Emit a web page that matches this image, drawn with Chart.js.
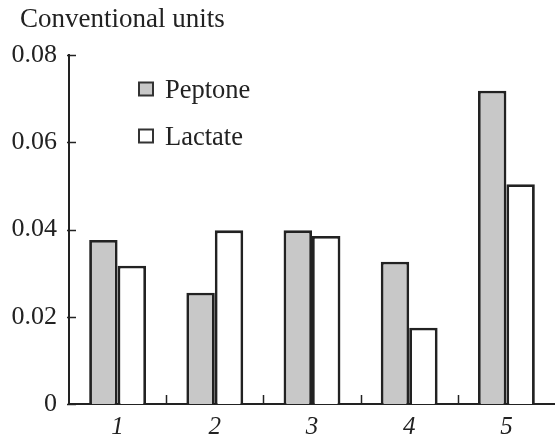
<!DOCTYPE html>
<html><head><meta charset="utf-8">
<script src="https://cdn.jsdelivr.net/npm/chart.js@4"></script>
<style>html,body{margin:0;padding:0;background:#fff}#wrap{width:555px;height:440px}</style>
</head><body><div id="wrap"><canvas id="c"></canvas></div>
<script>
const categories = ['1', '2', '3', '4', '5'];
const peptone = [0.0376, 0.0255, 0.0398, 0.0326, 0.0718];
const lactate = [0.0317, 0.0398, 0.0385, 0.0175, 0.0504];
const yTickLabels = ['0', '0.02', '0.04', '0.06', '0.08'];
const yTitle = 'Conventional units';
const seriesNames = ['Peptone', 'Lactate'];

const ink = '#222';
const overlay = {
  id: 'overlay',
  afterDraw(chart) {
    const ctx = chart.ctx, x = chart.scales.x, y = chart.scales.y, a = chart.chartArea;
    ctx.save();
    ctx.strokeStyle = ink; ctx.lineWidth = 1.5;
    // inward y ticks
    y.ticks.forEach(t => {
      const py = Math.round(y.getPixelForValue(t.value)) + 0.5;
      ctx.beginPath(); ctx.moveTo(a.left - 2, py); ctx.lineTo(a.left + 7, py); ctx.stroke();
    });
    // inward x ticks at category boundaries
    const step = x.width / categories.length;
    for (let i = 1; i < categories.length; i++) {
      const px = Math.round(x.getPixelForValue(i) - step / 2) + 0.5;
      ctx.beginPath(); ctx.moveTo(px, a.bottom); ctx.lineTo(px, a.bottom - 9); ctx.stroke();
    }
    // axis title
    ctx.fillStyle = ink;
    ctx.font = '27px "Liberation Serif"';
    ctx.textBaseline = 'alphabetic'; ctx.textAlign = 'left';
    ctx.fillText(yTitle, 20, 27);
    // legend
    ctx.font = '26.5px "Liberation Serif"';
    chart.data.datasets.forEach((ds, i) => {
      const cy = 89 + i * 47;
      ctx.fillStyle = ds.backgroundColor;
      ctx.strokeStyle = '#333'; ctx.lineWidth = 2;
      ctx.beginPath(); ctx.rect(139, cy - 6.5, 14, 13); ctx.fill(); ctx.stroke();
      ctx.fillStyle = ink;
      ctx.textBaseline = 'alphabetic';
      ctx.fillText(ds.label, 165, cy + 9);
    });
    ctx.restore();
  }
};

new Chart(document.getElementById('c'), {
  type: 'bar',
  data: {
    labels: categories,
    datasets: [
      { label: seriesNames[0], data: peptone, backgroundColor: '#c8c8c8', borderColor: ink, borderWidth: 2.8 },
      { label: seriesNames[1], data: lactate, backgroundColor: '#ffffff', borderColor: ink, borderWidth: 2.8 }
    ]
  },
  options: {
    responsive: true, maintainAspectRatio: false, animation: false,
    layout: { padding: { top: 55, right: 0, left: 0, bottom: 0 } },
    datasets: { bar: { categoryPercentage: 0.585, barPercentage: 1.0 } },
    plugins: { legend: { display: false }, tooltip: { enabled: false } },
    scales: {
      x: {
        grid: { display: false, drawTicks: false },
        border: { display: true, color: ink, width: 2 },
        ticks: { color: ink, padding: 8, font: { family: 'Liberation Serif', size: 25, style: 'italic' } },
        afterFit(s) { s.height = 36; }
      },
      y: {
        min: 0, max: 0.08,
        grid: { display: false, drawTicks: false },
        border: { display: true, color: ink, width: 2 },
        ticks: {
          stepSize: 0.02, color: ink, padding: 12,
          font: { family: 'Liberation Serif', size: 26 },
          callback: (v, i) => yTickLabels[i]
        },
        afterFit(s) { s.width = 69; }
      }
    }
  },
  plugins: [overlay]
});
</script></body></html>
